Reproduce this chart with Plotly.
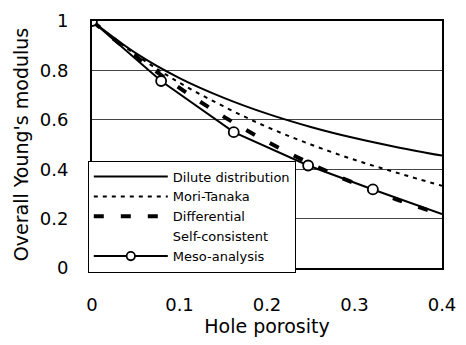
import plotly.graph_objects as go

porosity = [0, 0.05, 0.1, 0.15, 0.2, 0.25, 0.3, 0.35, 0.4]
dilute = [1, 0.87, 0.769, 0.69, 0.625, 0.571, 0.526, 0.488, 0.455]
mori_tanaka = [1, 0.864, 0.75, 0.655, 0.571, 0.5, 0.438, 0.384, 0.333]
differential = [1, 0.857, 0.729, 0.614, 0.512, 0.422, 0.343, 0.275, 0.216]
meso_x = [0, 0.079, 0.162, 0.247, 0.321, 0.4]
meso_y = [1, 0.757, 0.550, 0.415, 0.318, 0.218]
meso_marker_size = [10, 10, 10, 10, 10, 0]

font = "DejaVu Sans, sans-serif"

fig = go.Figure()
fig.add_trace(go.Scatter(x=porosity, y=dilute, mode="lines", name="Dilute distribution",
                         line=dict(color="black", width=2, shape="spline")))
fig.add_trace(go.Scatter(x=porosity, y=mori_tanaka, mode="lines", name="Mori-Tanaka",
                         line=dict(color="black", width=2, dash="4px,5px", shape="spline")))
fig.add_trace(go.Scatter(x=porosity, y=differential, mode="lines", name="Differential",
                         line=dict(color="black", width=4, dash="10px,17px", shape="spline")))
fig.add_trace(go.Scatter(x=[None], y=[None], mode="lines", name="Self-consistent",
                         line=dict(color="rgba(0,0,0,0)", width=1)))
fig.add_trace(go.Scatter(x=meso_x, y=meso_y, mode="lines+markers", name="Meso-analysis",
                         line=dict(color="black", width=2),
                         marker=dict(symbol="circle", size=meso_marker_size, color="#ffffff",
                                     opacity=1, line=dict(color="black", width=1.8))))

fig.update_layout(
    width=466, height=345,
    margin=dict(l=92, r=23, t=10, b=77),
    plot_bgcolor="white", paper_bgcolor="white",
    font=dict(family=font, color="black", size=18),
    showlegend=True,
    legend=dict(x=-0.012, y=0.435, xanchor="left", yanchor="top",
                bgcolor="white", bordercolor="black", borderwidth=1,
                font=dict(size=13, family=font), itemwidth=74,
                tracegroupgap=0, traceorder="normal"),
)
fig.update_xaxes(range=[0, 0.4], tickvals=[0, 0.1, 0.2, 0.3, 0.4],
                 ticktext=["0", "0.1", "0.2", "0.3", "0.4"],
                 showgrid=False, zeroline=False, showline=True, linecolor="black",
                 linewidth=2, mirror=True, ticks="", ticklabelstandoff=19,
                 title=dict(text="Hole porosity", font=dict(size=19), standoff=4),
                 tickfont=dict(size=18))
fig.update_yaxes(range=[0, 1], tickvals=[0, 0.2, 0.4, 0.6, 0.8, 1],
                 ticktext=["0", "0.2", "0.4", "0.6", "0.8", "1"],
                 showgrid=True, gridcolor="#444", gridwidth=1, zeroline=False,
                 showline=True, linecolor="black", linewidth=2, mirror=True,
                 ticks="", ticklabelstandoff=18,
                 title=dict(text="Overall Young's modulus", font=dict(size=19), standoff=6),
                 tickfont=dict(size=18))

fig.write_html("out.html")
